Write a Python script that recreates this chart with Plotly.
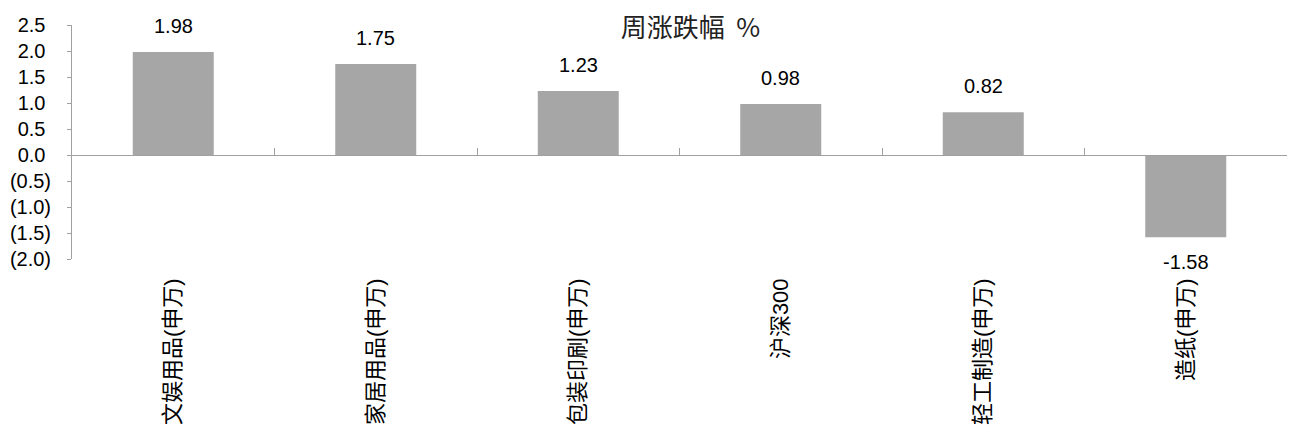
import plotly.graph_objects as go

categories = ["文娱用品(申万)", "家居用品(申万)", "包装印刷(申万)", "沪深300", "轻工制造(申万)", "造纸(申万)"]
values = [1.98, 1.75, 1.23, 0.98, 0.82, -1.58]
value_labels = ["1.98", "1.75", "1.23", "0.98", "0.82", "-1.58"]
y_tickvals = [2.5, 2.0, 1.5, 1.0, 0.5, 0.0, -0.5, -1.0, -1.5, -2.0]
y_ticktext = ["2.5\u00a0", "2.0\u00a0", "1.5\u00a0", "1.0\u00a0", "0.5\u00a0", "0.0\u00a0",
              "(0.5)", "(1.0)", "(1.5)", "(2.0)"]
title_text = "周涨跌幅\u00a0\u00a0%"

BAR = "#a6a6a6"
AX = "#a0a0a0"
LAT = "Arial, 'Liberation Sans', 'Noto Sans CJK SC', sans-serif"
CJK = "Arial, 'Liberation Sans', 'Noto Sans CJK SC', sans-serif"

fig = go.Figure()
fig.add_trace(go.Bar(x=categories, y=values, width=0.4, marker=dict(color=BAR, line=dict(width=0)),
                     showlegend=False, hoverinfo="skip"))
# dummy trace to render the zero-crossing category axis
fig.add_trace(go.Scatter(x=categories, y=[0]*len(categories), xaxis="x2", mode="markers",
                         marker=dict(opacity=0), showlegend=False, hoverinfo="skip"))

for c, v, t in zip(categories, values, value_labels):
    fig.add_annotation(x=c, y=v, text=t, showarrow=False,
                       yanchor="bottom" if v >= 0 else "top",
                       yshift=13 if v >= 0 else -12,
                       font=dict(family=LAT, size=20, color="#000"))

fig.update_layout(
    width=1296, height=435,
    margin=dict(l=72, r=9, t=25, b=176),
    paper_bgcolor="white", plot_bgcolor="white",
    title=dict(text=title_text, xref="paper", x=0.509, xanchor="center",
               yref="container", y=1 - 28/435, yanchor="middle",
               font=dict(family="'Noto Sans CJK SC', sans-serif", size=26, color="#222")),
    xaxis=dict(type="category", range=[-0.5, 5.5], showline=False, ticks="", showgrid=False,
               zeroline=False, tickangle=-90, ticklabelstandoff=14,
               tickfont=dict(family=CJK, size=22, color="#000")),
    xaxis2=dict(type="category", range=[-0.5, 5.5], overlaying="x", anchor="free",
                position=2/4.5, side="bottom", showline=True, linecolor=AX, linewidth=1,
                ticks="inside", tickson="boundaries", ticklen=7, tickcolor=AX,
                showticklabels=False, showgrid=False, zeroline=False),
    yaxis=dict(range=[-2, 2.5], tickvals=y_tickvals, ticktext=y_ticktext, showline=True,
               linecolor=AX, linewidth=1, ticks="outside", ticklen=4, tickcolor=AX,
               showgrid=False, zeroline=False, ticklabelstandoff=12,
               tickfont=dict(family=LAT, size=20, color="#000")),
)

fig.write_html("out.html")
